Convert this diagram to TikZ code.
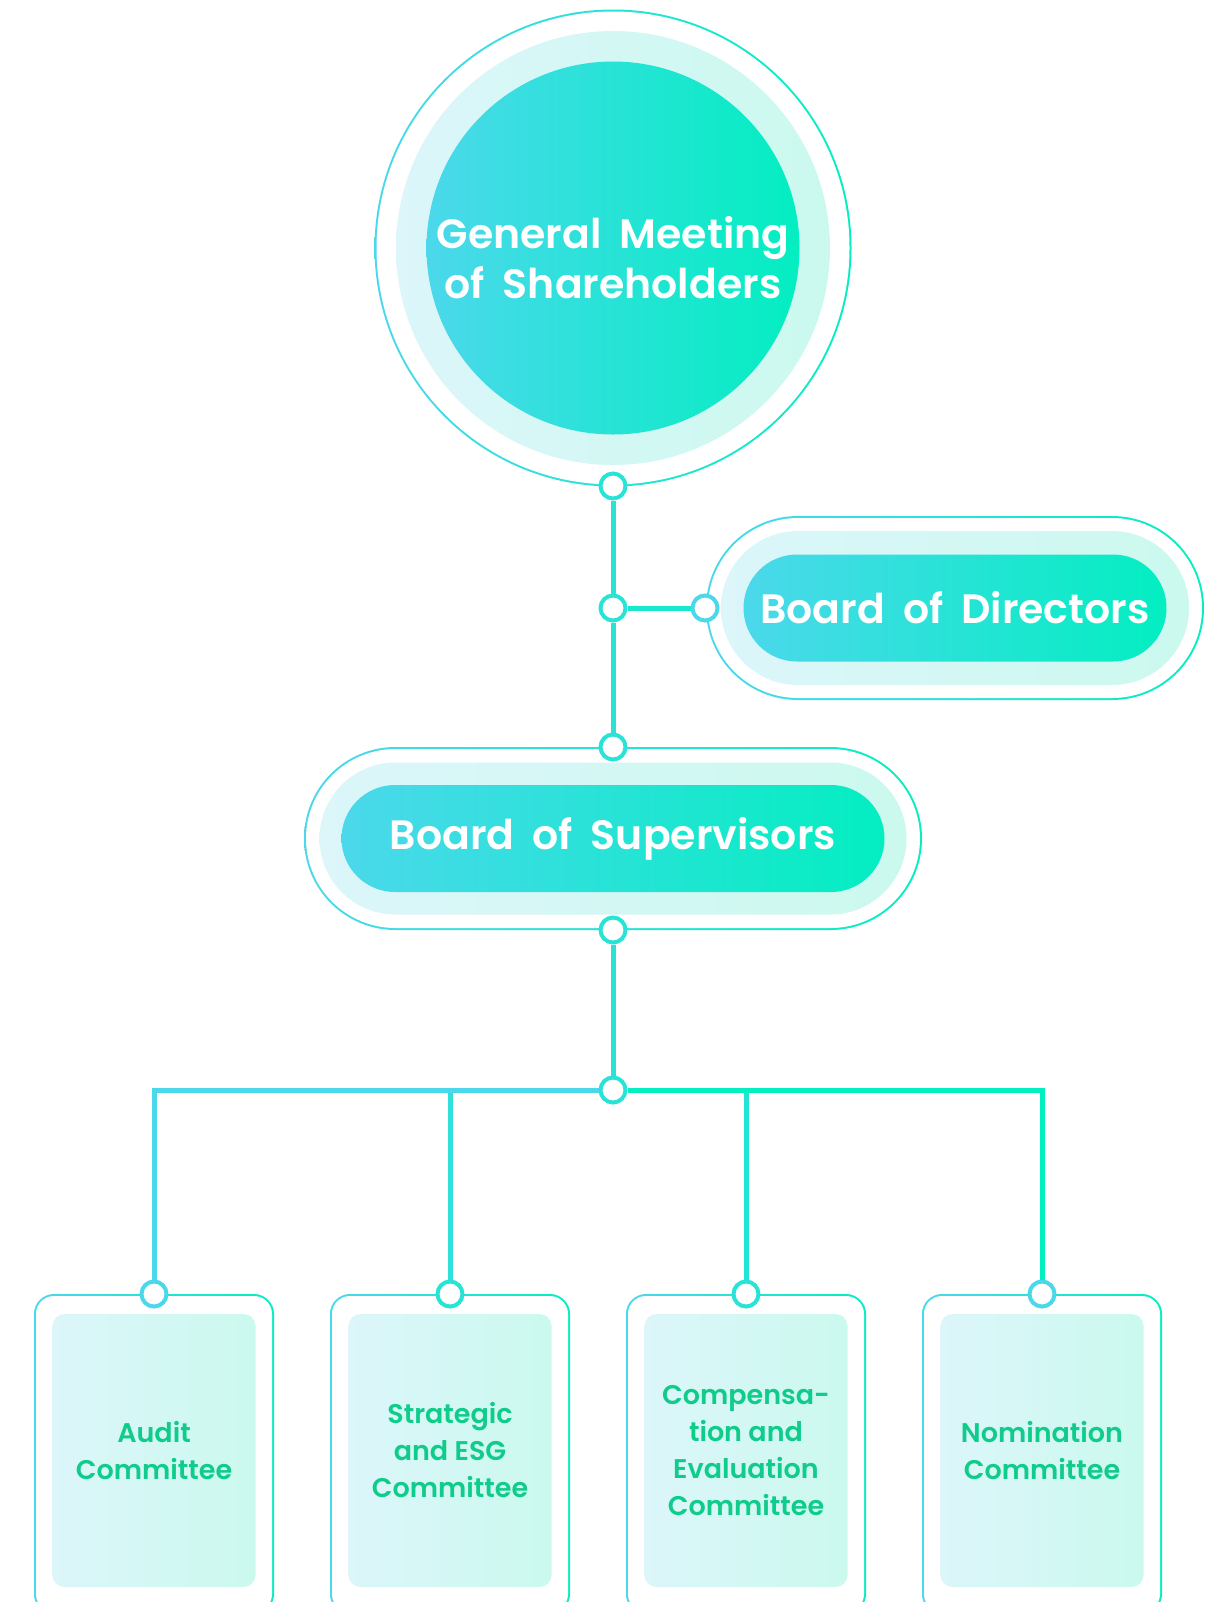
\documentclass[tikz,border=0pt]{standalone}
\usepackage{fontspec}
\setmainfont{Poppins}[BoldFont={Poppins SemiBold}]
\usetikzlibrary{positioning}

\definecolor{cyanA}{HTML}{4BD8EB}
\definecolor{greenA}{HTML}{03EEC1}
\definecolor{cyanL}{HTML}{DCF6FA}
\definecolor{greenL}{HTML}{CBF9EE}
\definecolor{textG}{HTML}{10CC8B}
\definecolor{wireM}{HTML}{28E3D6}

\newcommand\widesp{\spaceskip=9pt\relax}

\tikzset{
  deep/.style={left color=cyanA, right color=greenA},
  pale/.style={left color=cyanL, right color=greenL},
  blank/.style={fill=white},
  disc/.style={circle, inner sep=0pt, minimum size=#1},
  pill/.style 2 args={rectangle, inner sep=0pt, minimum width=#1, minimum height=#2, rounded corners=#2/2},
  card/.style 2 args={rectangle, inner sep=0pt, minimum width=#1, minimum height=#2},
  dot/.style={circle, draw=#1, line width=2pt, fill=white, minimum size=12.5pt, inner sep=0pt},
  wire/.style={line width=2.5pt, draw=#1},
  title/.style={text=white, font=\bfseries\fontsize{20.5}{25}\selectfont\widesp, align=center},
  cmt/.style={text=textG, font=\bfseries\fontsize{13.5}{18.5}\selectfont, align=center},
}

\begin{document}
\begin{tikzpicture}[x=0.5pt, y=-0.5pt]
\useasboundingbox (0,0) rectangle (1219,1602);
\def\xm{613};
\def\xd{955};
\def\ya{248};
\def\yd{608};
\def\ys{838.5};

% general meeting
\node[disc=238.5pt, deep] (gmsrim) at (\xm, \ya) {};
\node[disc=236.5pt, blank] at (\xm, \ya) {};
\node[disc=217pt, pale] at (\xm, \ya) {};
\node[disc=186.5pt, deep] (gms) at (\xm, \ya) {};
\node[title] (gmstxt) at (\xm, 258) {General Meeting\\of Shareholders};

% board of directors
\node[pill={249pt}{92pt}, deep] (bodrim) at (\xd, \yd) {};
\node[pill={247pt}{90pt}, blank] at (\xd, \yd) {};
\node[pill={234pt}{77pt}, pale] at (\xd, \yd) {};
\node[pill={211.5pt}{53.5pt}, deep, title] (bod) at (\xd, \yd) {Board of Directors};

% board of supervisors
\node[pill={309pt}{91.5pt}, deep] (bosrim) at (\xm, \ys) {};
\node[pill={307pt}{89.5pt}, blank] at (\xm, \ys) {};
\node[pill={293.5pt}{76pt}, pale] at (\xm, \ys) {};
\node[pill={271.5pt}{53.5pt}, deep, title] (bos) at (\xm, \ys) {Board of Supervisors};

% committees
\foreach \cx/\nm/\txt in {154/c1/{Audit\\Committee},
                          450/c2/{Strategic\\and ESG\\Committee},
                          746/c3/{Compensa-\\tion and\\Evaluation\\Committee},
                          1042/c4/{Nomination\\Committee}} {
  \node[card={120pt}{160pt}, deep, rounded corners=10pt] at (\cx, 1454) {};
  \node[card={118pt}{158pt}, blank, rounded corners=9pt] at (\cx, 1454) {};
  \node[card={101.5pt}{136.5pt}, pale, rounded corners=6pt, cmt] (\nm) at (\cx, 1450.5) {\txt};
}

% joints
\node[dot=wireM] (gmsdot) at (\xm, 486) {};
\node[dot=wireM] (jct) at (\xm, \yd) {};
\node[dot=cyanA] (boddot) at (705, \yd) {};
\node[dot=wireM] (bostop) at (\xm, 747) {};
\node[dot=wireM] (bosbot) at (\xm, 930) {};
\node[dot=wireM] (bus) at (\xm, 1090) {};
\node[dot=cyanA] (d1) at (154, 1294) {};
\node[dot=wireM] (d2) at (450, 1294) {};
\node[dot=wireM] (d3) at (746, 1294) {};
\node[dot=cyanA] (d4) at (1042, 1294) {};

% wires
\draw[wire=wireM] (gmsdot) -- (jct);
\draw[wire=wireM] (jct) -- (bostop);
\draw[wire=greenA!70!cyanA] (jct) -- (boddot);
\draw[wire=wireM] (bosbot) -- (bus);
\draw[wire=cyanA!60!greenA] (bus) -| (d2);
\draw[wire=cyanA] (bus) -| (d1);
\draw[wire=greenA!60!cyanA] (bus) -| (d3);
\draw[wire=greenA] (bus) -| (d4);
\end{tikzpicture}
\end{document}
